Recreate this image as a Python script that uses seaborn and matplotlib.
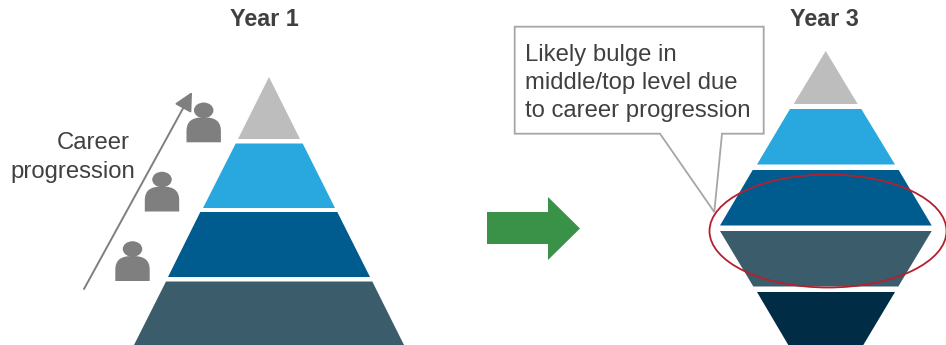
import matplotlib
matplotlib.use("Agg")
import matplotlib.pyplot as plt
from matplotlib.patches import Ellipse, FancyArrowPatch, PathPatch, Polygon
from matplotlib.path import Path
import seaborn as sns

sns.set_theme(style="white")
plt.rcParams["font.family"] = ["Liberation Sans", "DejaVu Sans"]

# Tier geometry in canvas units: top y, bottom y, then left/right edges at each end
year1_top = [77, 143.5, 212, 281.5]
year1_bottom = [139, 208, 277, 345]
year1_top_left = [269, 235.7, 200.3, 166]
year1_top_right = [269, 302.7, 337.3, 372.3]
year1_bottom_left = [238, 203, 168, 134]
year1_bottom_right = [300, 335, 370, 404]
year1_colors = ["#BDBDBD", "#29A8E0", "#005B8E", "#3B5C6B"]

year3_top = [51, 109, 170, 231, 292]
year3_bottom = [104, 164.5, 225.5, 286.5, 345]
year3_top_left = [825.7, 790, 752.7, 720, 757]
year3_top_right = [825.7, 861.3, 898.7, 931.7, 895]
year3_bottom_left = [793.7, 757, 720, 753.3, 788.3]
year3_bottom_right = [857.7, 895, 931.7, 898.3, 863.3]
year3_colors = ["#BDBDBD", "#29A8E0", "#005B8E", "#3B5C6B", "#002C45"]

person_x = [203.7, 162, 132.5]
person_y = [142.3, 211.5, 281]

callout_lines = "Likely bulge in\nmiddle/top level due\nto career progression"
career_words = ["Career", "progression"]
panel_titles = ["Year 1", "Year 3"]

TEXT = "#404040"
GREY = "#7F7F7F"
OUTLINE = "#A6A6A6"
BODY_SIZE = 17.2

fig = plt.figure(figsize=(9.46, 3.45), dpi=100)
ax = fig.add_axes([0, 0, 1, 1])
ax.set_xlim(0, 946)
ax.set_ylim(345, 0)
ax.axis("off")


def draw_tiers(tops, bottoms, tl, tr, bl, br, colors):
    for t, b, a, c, d, e, col in zip(tops, bottoms, tl, tr, bl, br, colors):
        ax.add_patch(Polygon([(a, t), (c, t), (e, b), (d, b)], closed=True,
                             facecolor=col, edgecolor="none", zorder=2))


draw_tiers(year1_top, year1_bottom, year1_top_left, year1_top_right,
           year1_bottom_left, year1_bottom_right, year1_colors)
draw_tiers(year3_top, year3_bottom, year3_top_left, year3_top_right,
           year3_bottom_left, year3_bottom_right, year3_colors)


def draw_person(cx, base):
    # Head above a dome-shouldered body
    ax.add_patch(Ellipse((cx, base - 32), 19.5, 15.5, facecolor=GREY,
                         edgecolor="none", zorder=3))
    hw, top, shoulder = 17.2, base - 25, base - 11
    k = 0.7
    verts = [(cx - hw, base), (cx - hw, shoulder),
             (cx - hw, shoulder - k * (shoulder - top)), (cx - k * hw, top), (cx, top),
             (cx + k * hw, top), (cx + hw, shoulder - k * (shoulder - top)), (cx + hw, shoulder),
             (cx + hw, base), (cx - hw, base)]
    codes = [Path.MOVETO, Path.LINETO, Path.CURVE4, Path.CURVE4, Path.CURVE4,
             Path.CURVE4, Path.CURVE4, Path.CURVE4, Path.LINETO, Path.CLOSEPOLY]
    ax.add_patch(PathPatch(Path(verts, codes), facecolor=GREY, edgecolor="none", zorder=3))


for px, py in zip(person_x, person_y):
    draw_person(px, py)

# Career progression arrow and label
ax.add_patch(FancyArrowPatch((84, 289), (192, 92), arrowstyle="-|>,head_length=0.75,head_width=0.38",
                             mutation_scale=15, color=GREY, lw=1.4, shrinkA=0, shrinkB=0, zorder=3))
ax.text(130, 143, career_words[0], ha="right", va="center", fontsize=BODY_SIZE, color=TEXT)
ax.text(135.5, 172, career_words[1], ha="right", va="center", fontsize=BODY_SIZE, color=TEXT)

# Transition arrow between the two pyramids
ax.add_patch(Polygon([(487, 212), (548, 212), (548, 197), (580, 228.5), (548, 260),
                      (548, 244), (487, 244)], closed=True, facecolor="#3A9148",
                     edgecolor="none", zorder=2))

# Callout box with its pointer
ax.add_patch(Polygon([(514.7, 26.7), (763.7, 26.7), (763.7, 133.7), (722, 133.7),
                      (714.3, 212), (660, 133.7), (514.7, 133.7)], closed=True,
                     facecolor="white", edgecolor=OUTLINE, lw=1.3, zorder=4))
ax.text(525, 83, callout_lines, ha="left", va="center", fontsize=BODY_SIZE, color=TEXT,
        linespacing=1.38, zorder=5)

# Highlight around the two middle tiers
ax.add_patch(Ellipse((828, 231), 237, 113, facecolor="none", edgecolor="#B5202F",
                     lw=1.3, zorder=6))

ax.text(264.5, 19, panel_titles[0], ha="center", va="center", fontsize=16.8,
        fontweight="bold", color=TEXT)
ax.text(824.5, 19, panel_titles[1], ha="center", va="center", fontsize=16.8,
        fontweight="bold", color=TEXT)

fig.savefig("out.png", dpi=100)
